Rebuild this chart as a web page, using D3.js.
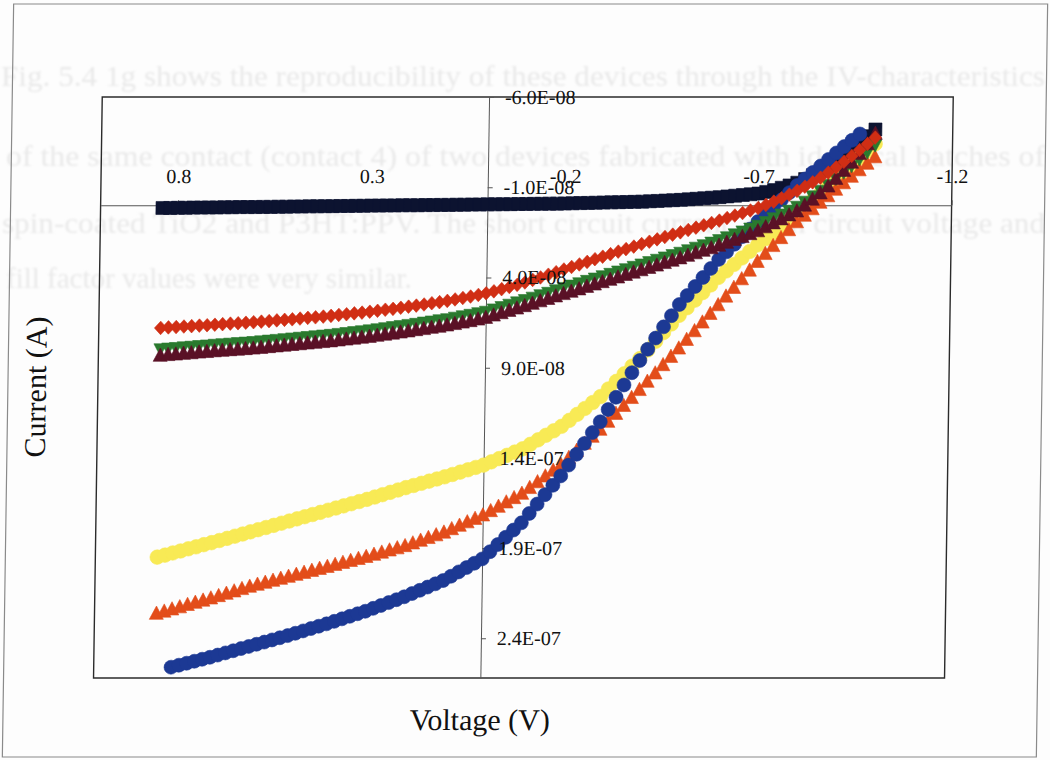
<!DOCTYPE html>
<html>
<head>
<meta charset="utf-8">
<script src="https://cdn.jsdelivr.net/npm/d3@7"></script>
<style>
  html, body { margin: 0; padding: 0; background: #fdfdfd; }
  svg { display: block; }
</style>
</head>
<body>
<svg id="chart" width="1050" height="760"></svg>
<script>
// Voltage sweep (V), shared by every trace
const volts = [0.84,0.82,0.80,0.78,0.76,0.74,0.72,0.70,0.68,0.66,0.64,0.62,0.60,0.58,0.56,0.54,0.52,0.50,0.48,0.46,0.44,0.42,0.40,0.38,0.36,0.34,0.32,0.30,0.28,0.26,0.24,0.22,0.20,0.18,0.16,0.14,0.12,0.10,0.08,0.06,0.04,0.02,0.00,
  -0.02,-0.04,-0.06,-0.08,-0.10,-0.12,-0.14,-0.16,-0.18,-0.20,-0.22,-0.24,-0.26,-0.28,-0.30,-0.32,-0.34,-0.36,-0.38,-0.40,-0.42,-0.44,-0.46,-0.48,-0.50,
  -0.52,-0.54,-0.56,-0.58,-0.60,-0.62,-0.64,-0.66,-0.68,-0.70,-0.72,-0.74,-0.76,-0.78,-0.80,-0.82,-0.84,-0.86,-0.88,-0.90,-0.92,-0.94,-0.96,-0.98,-1.00];

// Currents, in units of 1e-8 A (null = not measured at that voltage)
const currentBlack = [0.15,0.15,0.14,0.14,0.13,0.13,0.12,0.12, 0.11,0.11,0.10,0.10,0.10, 0.09,0.09,0.08,0.08,0.07, 0.07,0.06,0.06,0.05,0.05,
  0.04,0.04,0.03,0.03,0.02, 0.02,0.01,0.01,0.00,0.00, 0.00,-0.01,-0.01,-0.02,-0.02, -0.03,-0.03,-0.04,-0.04,-0.05,
  -0.05,-0.06,-0.06,-0.07,-0.07, -0.08,-0.08,-0.09,-0.09,-0.10, -0.11,-0.12,-0.13,-0.14,-0.15, -0.16,-0.17,-0.18,-0.19,-0.20,
  -0.22,-0.24,-0.26,-0.28,-0.30, -0.33,-0.36,-0.39,-0.42,-0.45, -0.49,-0.53,-0.57,-0.61,-0.65, -0.74,-0.84,-0.97,-1.10,-1.25,
  -1.45,-1.67,-1.92,-2.20,-2.50, -2.82,-3.14,-3.48,-3.83,-4.20];

const currentYellow = [19.50,19.39,19.27,19.16,19.04,18.93,18.81,18.70, 18.58,18.46,18.34,18.22,18.10, 17.98,17.86,17.74,17.62,17.50,
  17.38,17.26,17.14,17.02,16.90, 16.78,16.66,16.54,16.42,16.30, 16.17,16.04,15.91,15.78,15.65, 15.53,15.41,15.29,15.17,15.05,
  14.92,14.79,14.66,14.53,14.40, 14.22,14.04,13.86,13.68,13.50, 13.25,13.00,12.75,12.50,12.25, 11.92,11.59,11.26,10.93,10.60,
  10.18,9.76,9.34,8.92,8.50, 8.02,7.54,7.06,6.58,6.10, 5.68,5.26,4.84,4.42,4.00, 3.64,3.28,2.92,2.56,2.20,
  1.86,1.52,1.18,0.84,0.50, 0.12,-0.26,-0.64,-1.02,-1.40, -1.80,-2.20,-2.60,-3.00,-3.40];

const currentOrange = [22.60,22.48,22.36,22.24,22.11,21.99,21.87,21.75, 21.62,21.49,21.36,21.23,21.10, 20.99,20.88,20.77,20.66,20.55,
  20.44,20.33,20.22,20.11,20.00, 19.89,19.78,19.67,19.56,19.45, 19.33,19.21,19.09,18.97,18.85, 18.70,18.55,18.40,18.25,18.10,
  17.91,17.72,17.53,17.34,17.15, 16.91,16.67,16.43,16.19,15.95, 15.63,15.31,14.99,14.67,14.35, 13.96,13.57,13.18,12.79,12.40,
  11.96,11.52,11.08,10.64,10.20, 9.74,9.28,8.82,8.36,7.90, 7.42,6.94,6.46,5.98,5.50, 5.02,4.54,4.06,3.58,3.10,
  2.66,2.22,1.78,1.34,0.90, 0.54,0.18,-0.18,-0.54,-0.90, -1.26,-1.62,-1.98,-2.34,-2.70];

const currentBlue = [null,null,25.60,25.49,25.38,25.27,25.16,25.05, 24.93,24.81,24.69,24.57,24.45, 24.33,24.21,24.09,23.97,23.85,
  23.72,23.59,23.46,23.33,23.20, 23.06,22.92,22.78,22.64,22.50, 22.34,22.18,22.02,21.86,21.70, 21.52,21.34,21.16,20.98,20.80,
  20.56,20.32,20.08,19.84,19.60, 19.20,18.80,18.40,18.00,17.60, 17.08,16.56,16.04,15.52,15.00, 14.40,13.80,13.20,12.60,12.00,
  11.32,10.64,9.96,9.28,8.60, 7.98,7.36,6.74,6.12,5.50, 5.00,4.50,4.00,3.50,3.00, 2.58,2.16,1.74,1.32,0.90,
  0.50,0.10,-0.30,-0.70,-1.10, -1.46,-1.82,-2.18,-2.54,-2.90, -3.25,-3.60,-3.95,null,null];

const currentGreen = [8.00,7.96,7.93,7.89,7.86,7.82,7.79,7.75, 7.72,7.69,7.66,7.63,7.60, 7.56,7.52,7.48,7.44,7.40,
  7.36,7.32,7.28,7.24,7.20, 7.15,7.10,7.05,7.00,6.95, 6.89,6.83,6.77,6.71,6.65, 6.59,6.52,6.46,6.39,6.33,
  6.25,6.17,6.09,6.00,5.92, 5.79,5.66,5.53,5.40,5.27, 5.14,5.00,4.87,4.73,4.60, 4.47,4.34,4.21,4.08,3.95,
  3.82,3.69,3.56,3.43,3.30, 3.17,3.04,2.91,2.78,2.65, 2.51,2.37,2.23,2.09,1.95, 1.79,1.63,1.47,1.31,1.15,
  0.95,0.74,0.53,0.32,0.10, -0.18,-0.48,-0.79,-1.11,-1.45, -1.80,-2.16,-2.53,-2.91,-3.30];

const currentMaroon = [8.30,8.26,8.23,8.19,8.16,8.12,8.09,8.05, 8.02,7.99,7.96,7.93,7.90, 7.86,7.82,7.78,7.74,7.70,
  7.66,7.62,7.58,7.54,7.50, 7.45,7.40,7.35,7.30,7.25, 7.19,7.13,7.07,7.01,6.95, 6.88,6.82,6.75,6.69,6.62,
  6.54,6.46,6.38,6.29,6.20, 6.07,5.94,5.81,5.68,5.55, 5.42,5.28,5.15,5.01,4.88, 4.75,4.62,4.48,4.35,4.22,
  4.09,3.96,3.82,3.69,3.56, 3.43,3.30,3.16,3.03,2.90, 2.76,2.62,2.48,2.34,2.20, 2.04,1.88,1.72,1.56,1.40,
  1.18,0.96,0.74,0.52,0.30, -0.02,-0.35,-0.70,-1.08,-1.50, -1.95,-2.40,-2.88,-3.42,-4.00];

const currentRed = [6.80,6.77,6.75,6.72,6.70,6.67,6.65,6.62, 6.59,6.56,6.54,6.51,6.48, 6.45,6.42,6.38,6.35,6.32,
  6.28,6.24,6.21,6.17,6.13, 6.08,6.04,5.99,5.95,5.90, 5.85,5.79,5.74,5.68,5.62, 5.56,5.50,5.43,5.37,5.30,
  5.22,5.14,5.06,4.97,4.88, 4.77,4.65,4.53,4.41,4.28, 4.14,4.00,3.85,3.71,3.56, 3.42,3.28,3.14,2.99,2.85,
  2.71,2.57,2.43,2.29,2.15, 2.02,1.89,1.76,1.63,1.50, 1.37,1.24,1.11,0.98,0.85, 0.71,0.57,0.43,0.29,0.15,
  -0.02,-0.20,-0.39,-0.59,-0.80, -1.03,-1.27,-1.53,-1.81,-2.10, -2.41,-2.73,-3.06,-3.40,-3.75];

// Axis ticks
const xTickValues = [0.8, 0.3, -0.2, -0.7, -1.2];
const xTickLabels = ["0.8", "0.3", "-0.2", "-0.7", "-1.2"];
const yTickValues = [-6, -1, 4, 9, 14, 19, 24];
const yTickLabels = ["-6.0E-08", "-1.0E-08", "4.0E-08", "9.0E-08", "1.4E-07", "1.9E-07", "2.4E-07"];

// Faint text from the printed page behind the figure
const pageLines = [
  "Fig. 5.4 1g shows the reproducibility of these devices through the IV-characteristics",
  "of the same contact (contact 4) of two devices fabricated with identical batches of",
  "spin-coated TiO2 and P3HT:PPV. The short circuit current, open circuit voltage and",
  "fill factor values were very similar."
];

// ---- marker shapes (custom d3.symbol types; size = half-extent in px)
const symCircle = { draw(c, r) { c.moveTo(r, 0); c.arc(0, 0, r, 0, 2 * Math.PI); } };
const symSquare = { draw(c, r) { c.rect(-r, -r, 2 * r, 2 * r); } };
const symDiamond = { draw(c, r) { c.moveTo(0, -r); c.lineTo(r * 0.92, 0); c.lineTo(0, r); c.lineTo(-r * 0.92, 0); c.closePath(); } };
const symTriUp = { draw(c, r) { c.moveTo(0, -r); c.lineTo(r, r * 0.9); c.lineTo(-r, r * 0.9); c.closePath(); } };
const symTriDown = { draw(c, r) { c.moveTo(0, r); c.lineTo(r, -r * 0.9); c.lineTo(-r, -r * 0.9); c.closePath(); } };

// Drawing order: first is at the bottom
const series = [
  { values: currentBlack,  color: "#0c1330", shape: symSquare,   r: 6.5 },
  { values: currentYellow, color: "#f8ea55", shape: symCircle,   r: 7.3 },
  { values: currentOrange, color: "#e34d1a", shape: symTriUp,    r: 7 },
  { values: currentBlue,   color: "#1c3994", shape: symCircle,   r: 7 },
  { values: currentGreen,  color: "#2a7a2e", shape: symTriDown,  r: 6.5 },
  { values: currentMaroon, color: "#5a1126", shape: symTriUp,    r: 7 },
  { values: currentRed,    color: "#d02e14", shape: symDiamond,  r: 6.8 }
];

const FONT = "'Times New Roman', 'Liberation Serif', serif";
const svg = d3.select("#chart");

// soft filter for the faint page text
svg.append("defs").append("filter").attr("id", "soft")
  .append("feGaussianBlur").attr("stdDeviation", 0.9);

// page text behind the figure
const page = svg.append("g")
  .attr("font-family", FONT).attr("font-size", 29).attr("fill", "#e9e9e9")
  .attr("filter", "url(#soft)");
const pageLayout = [
  { x: 1, y: 86, len: 1044 },
  { x: 6, y: 166, len: 1039 },
  { x: 2, y: 233, len: 1043 },
  { x: 6, y: 288, len: 0 }
];
pageLines.forEach((t, i) => {
  const L = pageLayout[i];
  const tx = page.append("text").attr("x", L.x).attr("y", L.y).text(t);
  if (L.len) tx.attr("textLength", L.len).attr("lengthAdjust", "spacingAndGlyphs");
});

// The figure itself is slightly sheared
const shear = 0.015;
const chart = svg.append("g")
  .attr("transform", `translate(${shear * 380},0) skewX(${-Math.atan(shear) * 180 / Math.PI})`);

// outer frame
chart.append("rect")
  .attr("x", 8).attr("y", 4).attr("width", 1034).attr("height", 753)
  .attr("fill", "none").attr("stroke", "#8a8a8a").attr("stroke-width", 1.2);

const plot = { left: 98, right: 949, top: 97, bottom: 678 };
const x = d3.scaleLinear().domain([1.0, -1.2]).range([plot.left, plot.right]);
const y = d3.scaleLinear().domain([-6, 26.2]).range([plot.top, plot.bottom]);

// plot area border
chart.append("rect")
  .attr("x", plot.left).attr("y", plot.top)
  .attr("width", plot.right - plot.left).attr("height", plot.bottom - plot.top)
  .attr("fill", "none").attr("stroke", "#2b2b2b").attr("stroke-width", 1.4);

const xAxis = d3.axisTop(x).tickValues(xTickValues)
  .tickFormat((d, i) => xTickLabels[i]).tickSize(5).tickPadding(17).tickSizeOuter(0);
const yAxis = d3.axisRight(y).tickValues(yTickValues)
  .tickFormat((d, i) => yTickLabels[i]).tickSize(5).tickPadding(11).tickSizeOuter(0);

function styleAxis(g) {
  g.select(".domain").attr("stroke", "#555").attr("stroke-width", 1);
  g.selectAll(".tick line").attr("stroke", "#555");
  g.selectAll("text").attr("font-family", FONT).attr("font-size", 20).attr("fill", "#111");
  g.attr("font-family", null).attr("font-size", null);
}

// axis lines under the markers
const xLines = chart.append("g").attr("transform", `translate(0,${y(0)})`).call(xAxis).call(styleAxis);
xLines.selectAll("text").remove();
const yLines = chart.append("g").attr("transform", `translate(${x(0)},0)`).call(yAxis).call(styleAxis);
yLines.selectAll("text").remove();

// data markers
const symbol = d3.symbol();
series.forEach(s => {
  const pts = volts.map((v, i) => [v, s.values[i]]).filter(d => d[1] !== null);
  chart.append("g").selectAll("path").data(pts).join("path")
    .attr("transform", d => `translate(${x(d[0])},${y(d[1])})`)
    .attr("d", symbol.type(s.shape).size(s.r)())
    .attr("fill", s.color)
    .attr("stroke", s.color).attr("stroke-width", 0.6);
});

// tick labels over the markers
const xLabels = chart.append("g").attr("transform", `translate(0,${y(0)})`).call(xAxis).call(styleAxis);
xLabels.select(".domain").remove(); xLabels.selectAll(".tick line").remove();
const yLabels = chart.append("g").attr("transform", `translate(${x(0)},0)`).call(yAxis).call(styleAxis);
yLabels.select(".domain").remove(); yLabels.selectAll(".tick line").remove();

// axis titles
chart.append("text")
  .attr("x", x(0)).attr("y", 730).attr("text-anchor", "middle")
  .attr("font-family", FONT).attr("font-size", 30).attr("fill", "#111")
  .text("Voltage (V)");
chart.append("text")
  .attr("transform", "translate(46,387) rotate(-90)").attr("text-anchor", "middle")
  .attr("font-family", FONT).attr("font-size", 30).attr("fill", "#111")
  .text("Current (A)");
</script>
</body>
</html>
